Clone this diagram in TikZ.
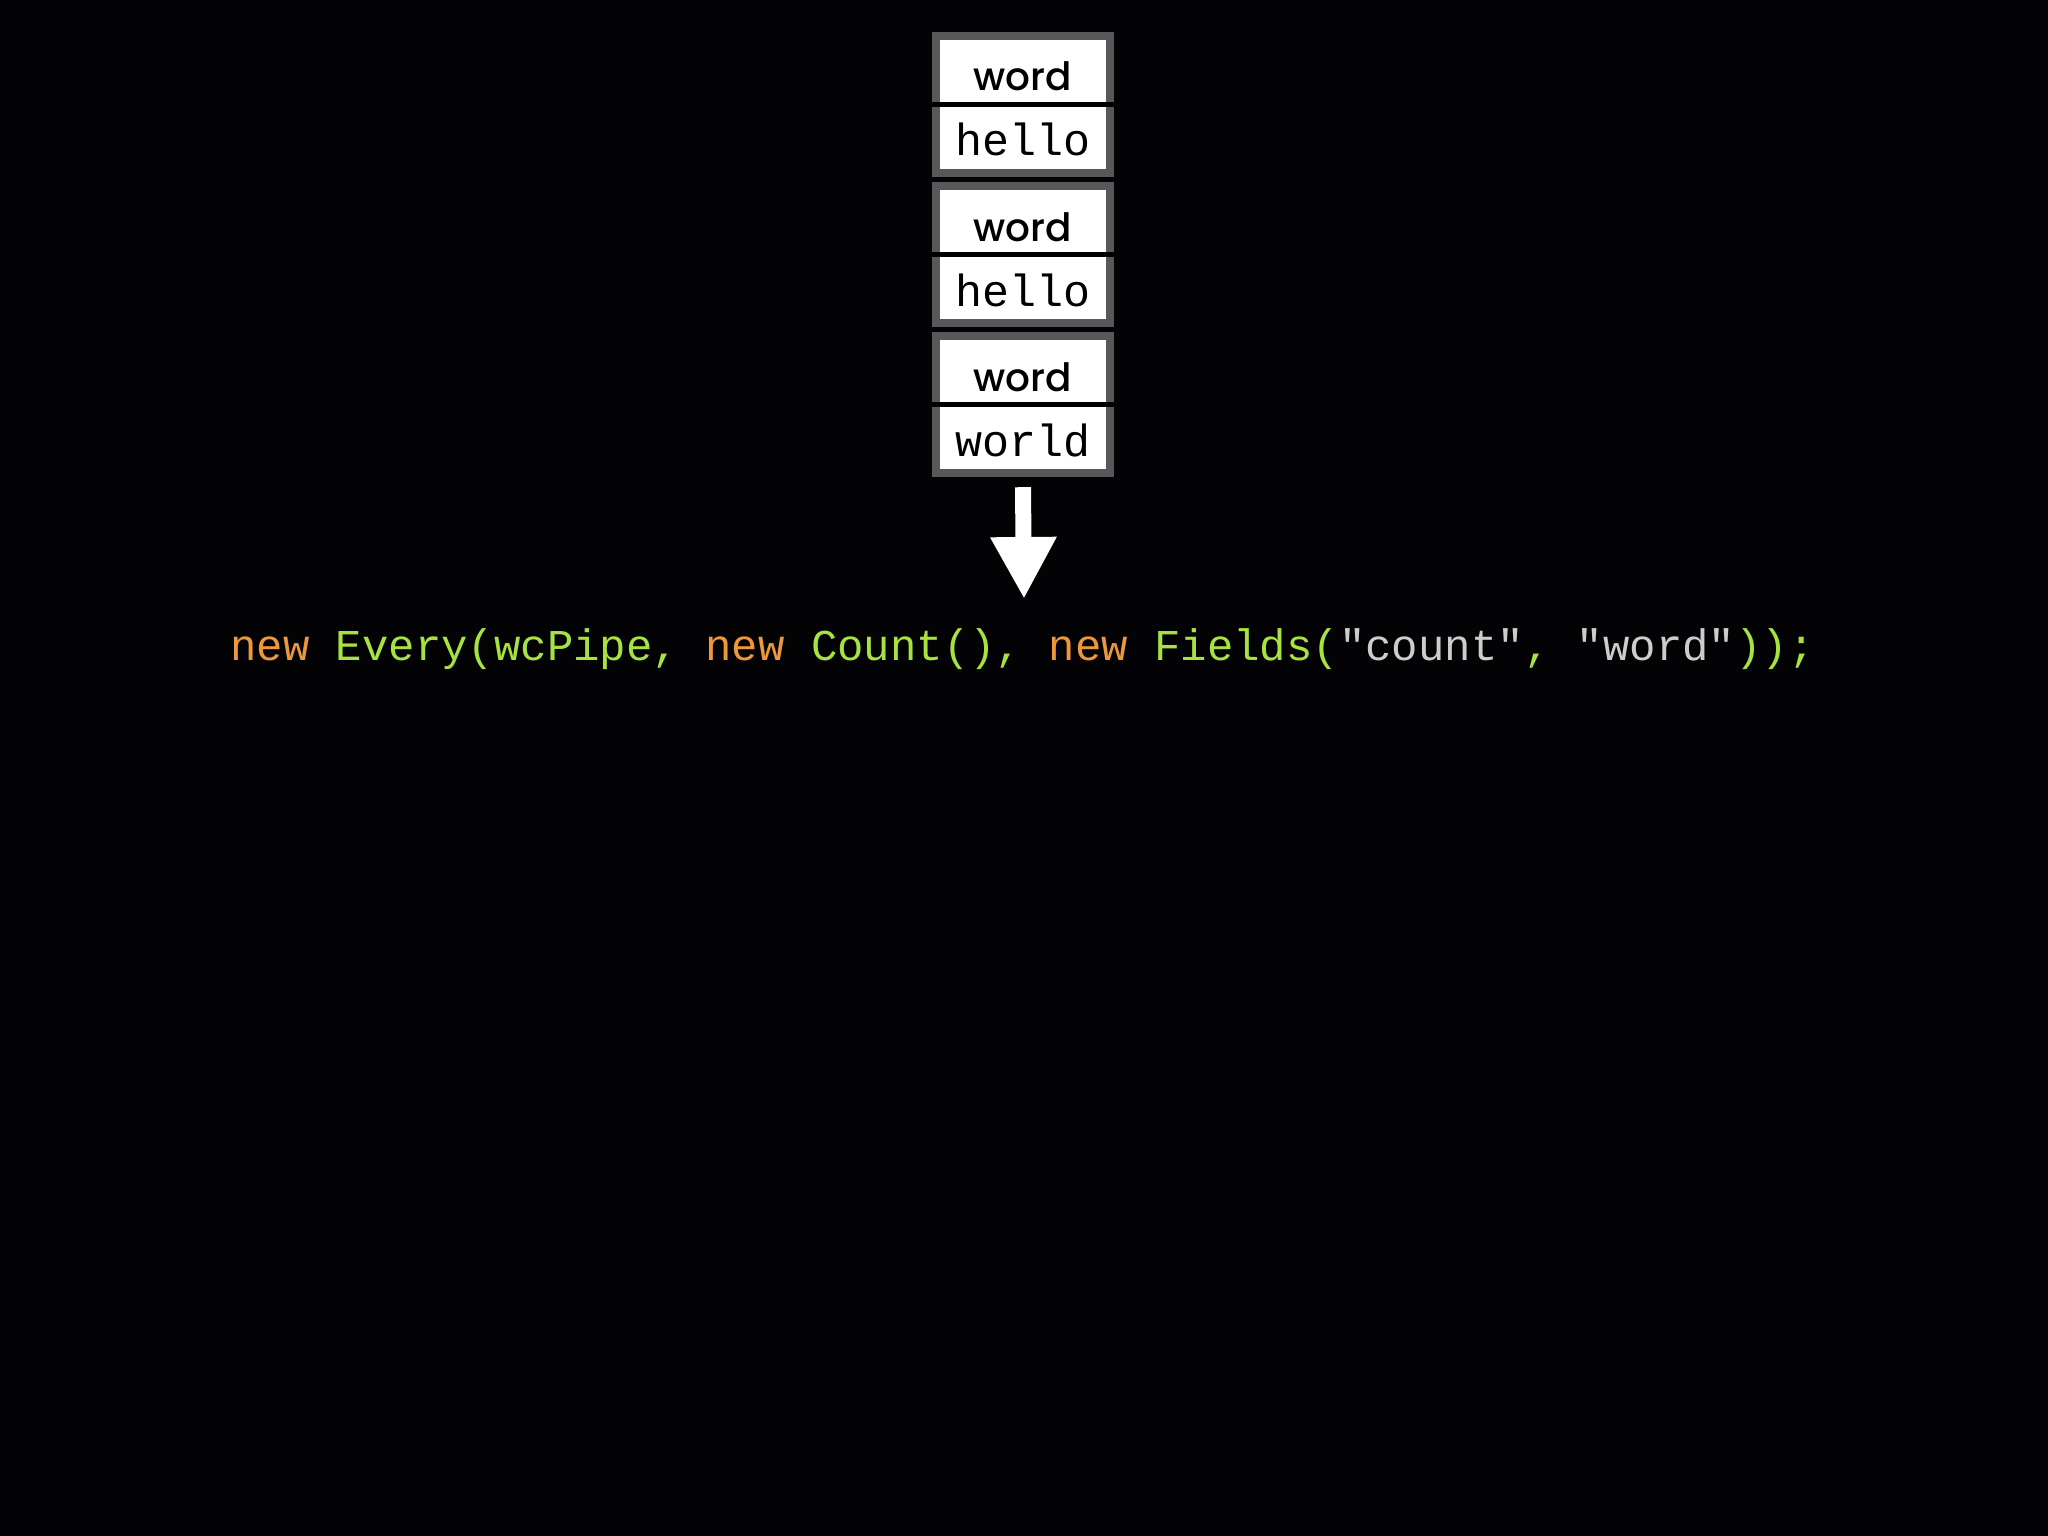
\documentclass[tikz,border=0pt]{standalone}
\usepackage{fontspec}
\setmonofont{Liberation Mono}
\newfontfamily\wordfont{Poppins Medium}
\usetikzlibrary{arrows.meta}
\definecolor{bg}{RGB}{3,3,6}
\definecolor{frame}{RGB}{88,88,90}
\definecolor{kwnew}{RGB}{238,152,60}
\definecolor{kwgreen}{RGB}{168,226,64}
\definecolor{strgray}{RGB}{205,205,205}
\begin{document}
\begin{tikzpicture}[x=1pt,y=-1pt,
  cell/.style={fill=white, minimum width=166pt, minimum height=62pt, inner sep=0pt, text=black},
  keycell/.style={cell, text height=51pt, text depth=11pt, font=\wordfont\fontsize{39}{41}\selectfont},
  valcell/.style={cell, text height=49pt, text depth=13pt, font=\ttfamily\fontsize{45}{47}\selectfont},
  pairframe/.style={fill=frame},
  divider/.style={fill=black},
  bigarrow/.style={draw=white, line width=16pt, -{Triangle[length=62pt, width=62pt]}}
]
\fill[bg] (0,0) rectangle (2048,1536);
\useasboundingbox (0,0) rectangle (2048,1536);
% three pairs
\foreach \i/\top/\val in {1/32/hello, 2/182/hello, 3/332/world}{
  \fill[pairframe] (932,\top) rectangle (1114,\top+145);
  \fill[divider] (932,\top+70) rectangle (1114,\top+75);
  \node[keycell] (w\i) at (1023,\top+39) {word};
  \node[valcell] (h\i) at (1023,\top+106) {\val};
}
\coordinate (tip) at (1024,599);
\draw[bigarrow] ([yshift=-18pt]h3.south) -- (tip);
\node[anchor=base west, inner sep=0pt, font=\ttfamily\fontsize{44}{46}\selectfont] (code) at (230,660)
  {\textcolor{kwnew}{new} \textcolor{kwgreen}{Every(wcPipe,} \textcolor{kwnew}{new} \textcolor{kwgreen}{Count(),} \textcolor{kwnew}{new} \textcolor{kwgreen}{Fields(}\textcolor{strgray}{"count"}\textcolor{kwgreen}{,} \textcolor{strgray}{"word"}\textcolor{kwgreen}{));}};
\end{tikzpicture}
\end{document}
